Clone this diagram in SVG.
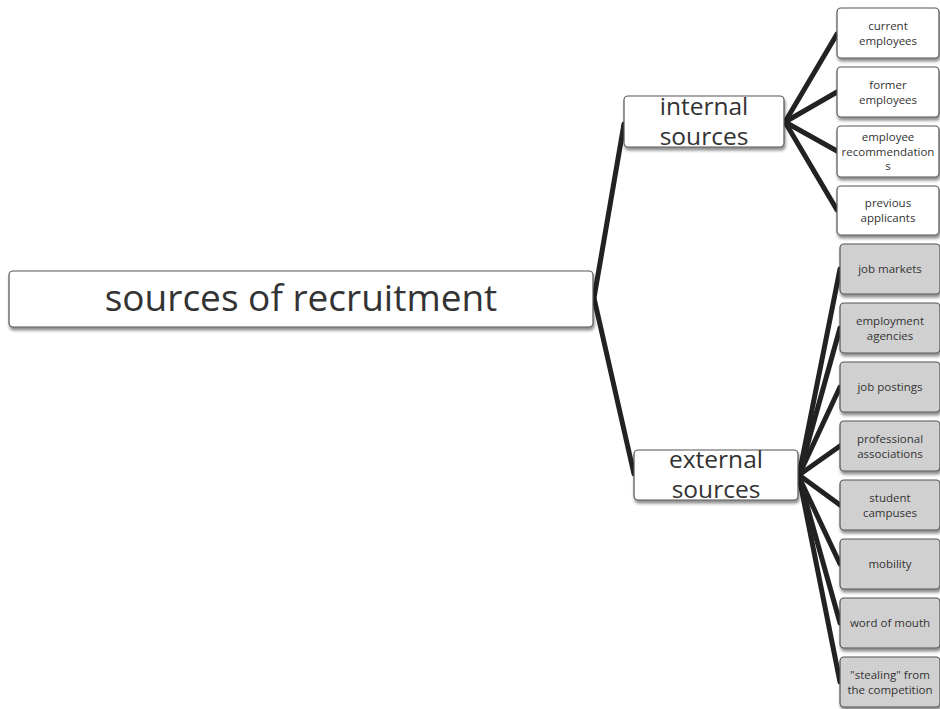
<svg xmlns="http://www.w3.org/2000/svg" width="940" height="709" viewBox="0 0 940 709">
<defs>
<filter id="sh" x="-10%" y="-20%" width="130%" height="160%">
<feDropShadow dx="1" dy="3" stdDeviation="1.5" flood-color="#000" flood-opacity="0.45"/>
</filter>
</defs>
<style>
.box{fill:#fff;stroke:#555;stroke-width:1.2;filter:url(#sh)}
.gbox{fill:#d0d0d0;stroke:#555;stroke-width:1.2;filter:url(#sh)}
.big{font-family:"Open Sans","Liberation Sans",sans-serif;fill:#333;text-anchor:middle}
.sm{font-family:"Open Sans","Liberation Sans",sans-serif;font-size:11.5px;fill:#333;text-anchor:middle}
.c{stroke:#222;stroke-width:5;fill:none;stroke-linecap:round}
</style>
<g id="connectors">
<path class="c" d="M594 298 L624 124"/>
<path class="c" d="M594 298 L634 474"/>
<path class="c" d="M785 122 L837 34"/>
<path class="c" d="M785 122 L837 92"/>
<path class="c" d="M785 122 L837 151"/>
<path class="c" d="M785 122 L837 210"/>
<path class="c" d="M799 475 L840 269"/>
<path class="c" d="M799 475 L840 328"/>
<path class="c" d="M799 475 L840 387"/>
<path class="c" d="M799 475 L840 446"/>
<path class="c" d="M799 475 L840 505"/>
<path class="c" d="M799 477 L840 564"/>
<path class="c" d="M799 477 L840 623"/>
<path class="c" d="M799 477 L840 682"/>
</g>
<g id="root">
<rect class="box" x="9" y="271" width="584" height="56" rx="4"/>
<text class="big" x="301" y="311" font-size="37">sources of recruitment</text>
</g>
<g id="internal">
<rect class="box" x="624" y="96" width="160" height="51" rx="4"/>
<text class="big" x="704" y="115" font-size="24.5">internal</text>
<text class="big" x="704" y="145" font-size="24.5">sources</text>
</g>
<g id="external">
<rect class="box" x="634" y="450" width="164" height="50" rx="4"/>
<text class="big" x="716" y="468" font-size="24.5">external</text>
<text class="big" x="716" y="498" font-size="24.5">sources</text>
</g>
<g id="current">
<rect class="box" x="837" y="8" width="102" height="50" rx="4"/>
<text class="sm" x="888" y="30">current</text>
<text class="sm" x="888" y="45">employees</text>
</g>
<g id="former">
<rect class="box" x="837" y="67" width="102" height="50" rx="4"/>
<text class="sm" x="888" y="89">former</text>
<text class="sm" x="888" y="104">employees</text>
</g>
<g id="recommendations">
<rect class="box" x="837" y="126" width="102" height="51" rx="4"/>
<text class="sm" x="888" y="141">employee</text>
<text class="sm" x="888" y="156">recommendation</text>
<text class="sm" x="888" y="170">s</text>
</g>
<g id="previous">
<rect class="box" x="837" y="186" width="102" height="49" rx="4"/>
<text class="sm" x="888" y="207">previous</text>
<text class="sm" x="888" y="222">applicants</text>
</g>
<g id="job-markets">
<rect class="gbox" x="840" y="244" width="100" height="50" rx="4"/>
<text class="sm" x="890" y="273">job markets</text>
</g>
<g id="agencies">
<rect class="gbox" x="840" y="303" width="100" height="50" rx="4"/>
<text class="sm" x="890" y="325">employment</text>
<text class="sm" x="890" y="340">agencies</text>
</g>
<g id="postings">
<rect class="gbox" x="840" y="362" width="100" height="50" rx="4"/>
<text class="sm" x="890" y="391">job postings</text>
</g>
<g id="associations">
<rect class="gbox" x="840" y="421" width="100" height="50" rx="4"/>
<text class="sm" x="890" y="443">professional</text>
<text class="sm" x="890" y="458">associations</text>
</g>
<g id="campuses">
<rect class="gbox" x="840" y="480" width="100" height="50" rx="4"/>
<text class="sm" x="890" y="502">student</text>
<text class="sm" x="890" y="517">campuses</text>
</g>
<g id="mobility">
<rect class="gbox" x="840" y="539" width="100" height="50" rx="4"/>
<text class="sm" x="890" y="568">mobility</text>
</g>
<g id="word-of-mouth">
<rect class="gbox" x="840" y="598" width="100" height="50" rx="4"/>
<text class="sm" x="890" y="627">word of mouth</text>
</g>
<g id="stealing">
<rect class="gbox" x="840" y="657" width="100" height="50" rx="4"/>
<text class="sm" x="890" y="679">"stealing" from</text>
<text class="sm" x="890" y="694">the competition</text>
</g>
</svg>
